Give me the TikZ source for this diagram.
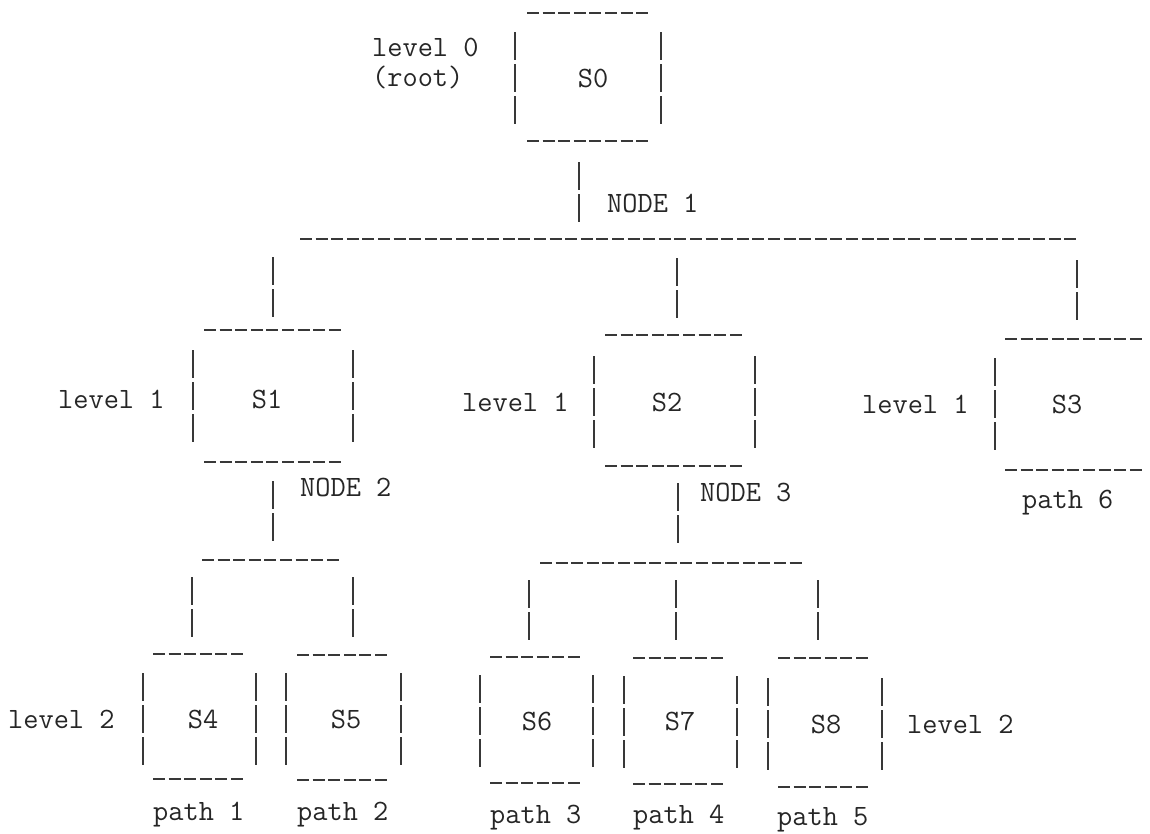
\documentclass[tikz,border=0pt]{standalone}
\usepackage{fontspec}
\newcommand\typefont{\fontsize{29.5}{31}\selectfont\ttfamily\addfontfeatures{FakeBold=0.7}}
\begin{document}
\begin{tikzpicture}[x=1pt,y=-1pt,
  ink/.style={black!78},
  hrule/.style={ink, line width=2.1pt, dash pattern=on 12pt off 3.6pt},
  vrule/.style={ink, line width=1.4pt, dash pattern=on 28pt off 4pt},
  lbl/.style={anchor=base west, inner sep=0pt, text=black!85, font=\typefont},
  sname/.style={anchor=base, inner sep=0pt, text=black!85, font=\typefont}]
\useasboundingbox (0,0) rectangle (1150,833);

% ---------- root box S0 ----------
\node[sname] (S0) at (593,87) {S0};
\node[lbl] (lv0) at (372,56) {level 0};
\node[lbl] (root) at (372,86) {(root)};
\draw[hrule] (527,13) -- (649,13);
\draw[hrule] (527,141) -- (649,141);
\draw[vrule] (515,32) -- (515,124);
\draw[vrule] (661,32) -- (661,124);

% ---------- NODE 1 ----------
\coordinate (n1top) at (579,162);
\coordinate (n1bot) at (579,222);
\draw[vrule] (n1top) -- (n1bot);
\node[lbl] (node1) at (607,212) {NODE 1};
\coordinate (j1l) at (300,239);
\coordinate (j1r) at (1077,239);
\draw[hrule] (j1l) -- (j1r);
\draw[vrule] (273,257) -- (273,317);
\draw[vrule] (677,258) -- (677,318);
\draw[vrule] (1077,260) -- (1077,320);

% ---------- level 1 boxes ----------
% S1
\node[sname] (S1) at (267,408) {S1};
\node[lbl] (lv1a) at (58,408) {level 1};
\draw[hrule] (204,330) -- (341,330);
\draw[hrule] (204,462) -- (341,462);
\draw[vrule] (193,350) -- (193,442);
\draw[vrule] (353,350) -- (353,442);
% S2
\node[sname] (S2) at (667,411) {S2};
\node[lbl] (lv1b) at (462,411) {level 1};
\draw[hrule] (605,335) -- (742,335);
\draw[hrule] (605,466) -- (742,466);
\draw[vrule] (594,356) -- (594,448);
\draw[vrule] (755,356) -- (755,448);
% S3
\node[sname] (S3) at (1067,413) {S3};
\node[lbl] (lv1c) at (862,413) {level 1};
\draw[hrule] (1005,339) -- (1142,339);
\draw[hrule] (1005,470) -- (1142,470);
\draw[vrule] (995,358) -- (995,450);
\node[lbl] (p6) at (1022,508) {path 6};

% ---------- NODE 2 ----------
\draw[vrule] (273,481) -- (273,541);
\node[lbl] (node2) at (300,496) {NODE 2};
\draw[hrule] (202,560) -- (339,560);
\draw[vrule] (192,577) -- (192,637);
\draw[vrule] (353,577) -- (353,637);

% ---------- NODE 3 ----------
\draw[vrule] (678,483) -- (678,543);
\node[lbl] (node3) at (700,501) {NODE 3};
\draw[hrule] (540,563) -- (802,563);
\draw[vrule] (529,580) -- (529,640);
\draw[vrule] (676,580) -- (676,640);
\draw[vrule] (818,580) -- (818,640);

% ---------- level 2 boxes ----------
\node[lbl] (lv2a) at (8,728) {level 2};
\node[lbl] (lv2b) at (907,733) {level 2};
% S4
\node[sname] (S4) at (203,728) {S4};
\draw[hrule] (153,654) -- (243,654);
\draw[hrule] (153,779) -- (243,779);
\draw[vrule] (143,673) -- (143,765);
\draw[vrule] (256,673) -- (256,765);
\node[lbl] (p1) at (153,820) {path 1};
% S5
\node[sname] (S5) at (346,728) {S5};
\draw[hrule] (297,655) -- (387,655);
\draw[hrule] (297,780) -- (387,780);
\draw[vrule] (286,673) -- (286,765);
\draw[vrule] (401,673) -- (401,765);
\node[lbl] (p2) at (297,820) {path 2};
% S6
\node[sname] (S6) at (537,730) {S6};
\draw[hrule] (490,657) -- (580,657);
\draw[hrule] (490,783) -- (580,783);
\draw[vrule] (480,675) -- (480,767);
\draw[vrule] (593,675) -- (593,767);
\node[lbl] (p3) at (490,823) {path 3};
% S7
\node[sname] (S7) at (680,730) {S7};
\draw[hrule] (633,658) -- (723,658);
\draw[hrule] (633,784) -- (723,784);
\draw[vrule] (624,676) -- (624,768);
\draw[vrule] (737,676) -- (737,768);
\node[lbl] (p4) at (633,823) {path 4};
% S8
\node[sname] (S8) at (826,733) {S8};
\draw[hrule] (778,658) -- (868,658);
\draw[hrule] (778,787) -- (868,787);
\draw[vrule] (768,678) -- (768,770);
\draw[vrule] (882,678) -- (882,770);
\node[lbl] (p5) at (777,825) {path 5};
\end{tikzpicture}
\end{document}
